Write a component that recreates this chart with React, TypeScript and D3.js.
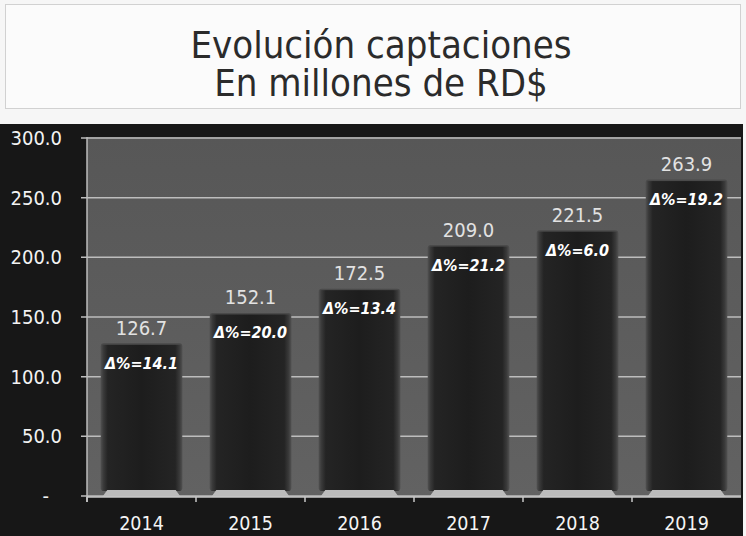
import React from "react";
import * as d3 from "d3";

const years = ["2014", "2015", "2016", "2017", "2018", "2019"];
const values = [126.7, 152.1, 172.5, 209.0, 221.5, 263.9];
const deltas = ["14.1", "20.0", "13.4", "21.2", "6.0", "19.2"];
const yTicks = [0, 50, 100, 150, 200, 250, 300];
const titleLines = ["Evolución captaciones", "En millones de RD$"];

const W = 746;
const H = 536;
const FONT = "'DejaVu Sans Condensed', 'DejaVu Sans', sans-serif";

export default function App() {
  const plotLeft = 87;
  const plotRight = 741;
  const plotTop = 137;
  const plotBottom = 497;

  const x = d3.scaleBand<string>().domain(years).range([plotLeft, plotRight]).paddingInner(0.28).paddingOuter(0.14);
  const xb = d3.scaleBand<string>().domain(years).range([plotLeft, plotRight]);
  const y = d3.scaleLinear().domain([0, 300]).range([496, 138]);

  return (
    <svg width={W} height={H} style={{ position: "absolute", left: 0, top: 0 }} fontFamily={FONT}>
      <defs>
        <linearGradient id="barG" x1="0" x2="1" y1="0" y2="0">
          <stop offset="0" stopColor="#404040" />
          <stop offset="0.07" stopColor="#242424" />
          <stop offset="0.5" stopColor="#1d1d1d" />
          <stop offset="0.93" stopColor="#242424" />
          <stop offset="1" stopColor="#404040" />
        </linearGradient>
        <linearGradient id="bgG" x1="0" x2="0" y1="0" y2="1">
          <stop offset="0" stopColor="#575757" />
          <stop offset="1" stopColor="#626262" />
        </linearGradient>
      </defs>
      <rect x={0} y={0} width={W} height={H} fill="#f6f6f6" />
      {/* title box */}
      <rect x={5.5} y={4.5} width={735} height={104} fill="#fbfbfb" stroke="#a8a8a8" strokeDasharray="1 1" />
      {titleLines.map((t, i) => (
        <text key={t} x={381} y={58 + i * 38} textAnchor="middle" fontSize={38} fill="#2b2b2b" style={{ fontStretch: "condensed" }}>
          {t}
        </text>
      ))}
      {/* dark frame */}
      <rect x={0} y={124} width={743} height={H - 124} fill="#171717" />
      <rect x={plotLeft} y={plotTop} width={plotRight - plotLeft} height={plotBottom - plotTop} fill="url(#bgG)" />
      {/* gridlines */}
      {yTicks.map((t) => (
        <g key={t}>
          <line x1={81} x2={plotRight} y1={y(t)} y2={y(t)} stroke="#bdbdbd" strokeWidth={1.5} />
          <text x={t === 0 ? 49 : 62} y={y(t) + 7} textAnchor="end" fontSize={20} fill="#f2f2f2" style={{ fontStretch: "condensed" }}>
            {t === 0 ? "-" : t.toFixed(1)}
          </text>
        </g>
      ))}
      <line x1={plotLeft} x2={plotLeft} y1={plotTop} y2={plotBottom + 5} stroke="#bdbdbd" strokeWidth={1.5} />
      {/* bars */}
      {years.map((yr, i) => {
        const bx = x(yr)!;
        const bw = x.bandwidth();
        const top = y(values[i]);
        return (
          <g key={yr}>
            <rect x={bx - 1.5} y={top - 1.5} width={bw + 3} height={491 - top + 1.5} fill="#4a4a4a" rx={3} />
            <rect x={bx} y={top} width={bw} height={491 - top} fill="url(#barG)" />
            <path
              d={`M${bx},${plotBottom} L${bx + 5},${490} L${bx + bw - 5},${490} L${bx + bw},${plotBottom} Z`}
              fill="#bcbcbc"
            />
          </g>
        );
      })}
      <line x1={plotLeft} x2={plotRight} y1={plotBottom} y2={plotBottom} stroke="#c8c8c8" strokeWidth={1.5} />
      {years.map((yr) => (
        <line key={"t" + yr} x1={xb(yr)!} x2={xb(yr)!} y1={plotBottom} y2={plotBottom + 5} stroke="#c8c8c8" strokeWidth={1.5} />
      ))}
      {/* labels */}
      {years.map((yr, i) => {
        const cx = x(yr)! + x.bandwidth() / 2;
        const top = y(values[i]);
        return (
          <g key={"l" + yr}>
            <text x={cx} y={top - 10} textAnchor="middle" fontSize={20} fill="#e2e2e2" style={{ fontStretch: "condensed" }}>
              {values[i].toFixed(1)}
            </text>
            <text x={cx} y={top + 24} textAnchor="middle" fontSize={16} fontWeight="bold" fontStyle="italic" fill="#ffffff" style={{ fontStretch: "condensed" }}>
              {"Δ%=" + deltas[i]}
            </text>
            <text x={xb(yr)! + xb.bandwidth() / 2} y={530} textAnchor="middle" fontSize={19.5} fill="#f4f4f4" style={{ fontStretch: "condensed" }}>
              {yr}
            </text>
          </g>
        );
      })}
    </svg>
  );
}
